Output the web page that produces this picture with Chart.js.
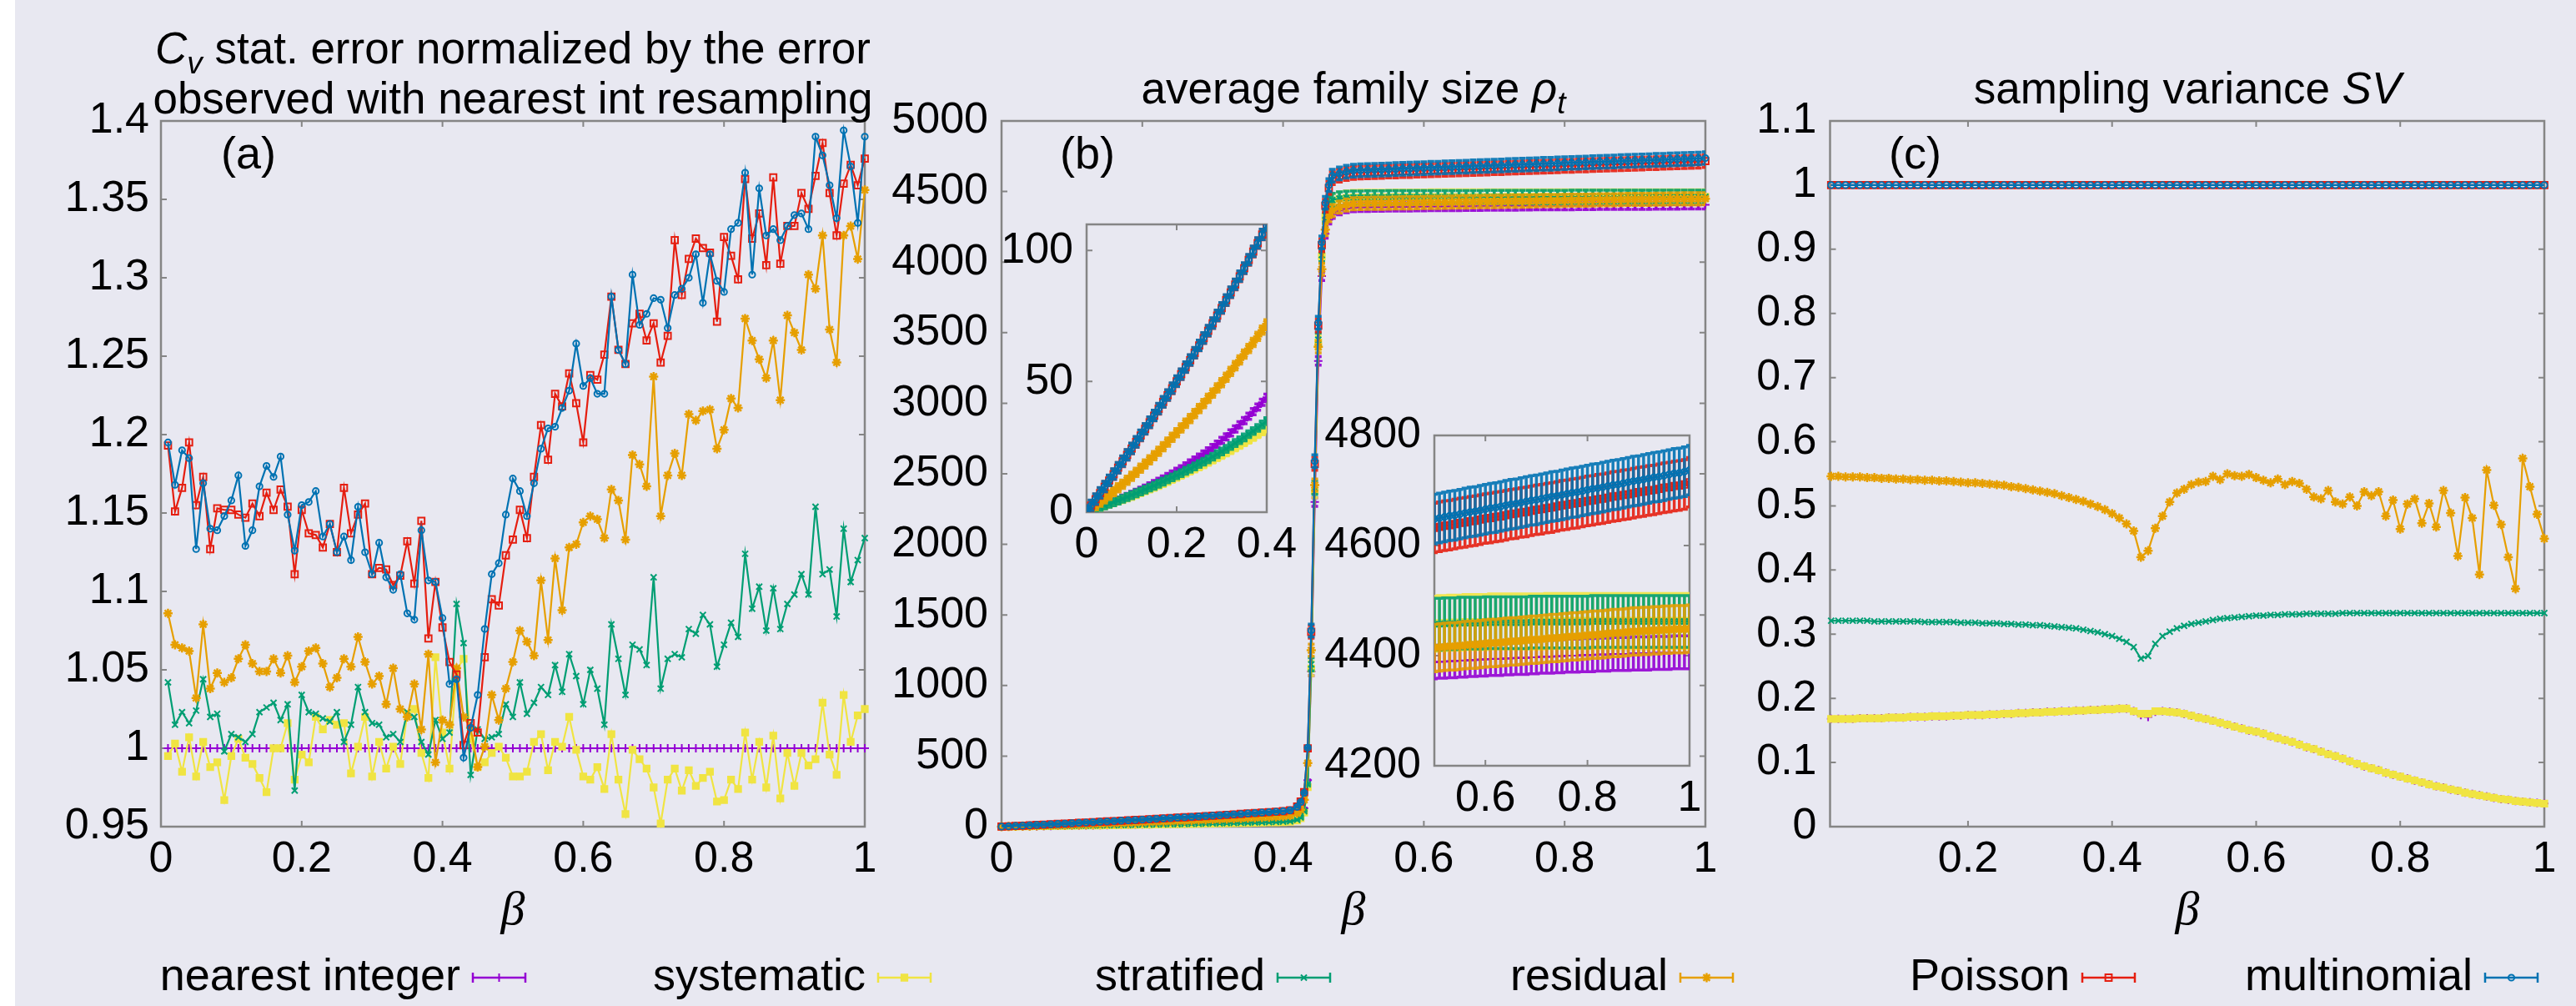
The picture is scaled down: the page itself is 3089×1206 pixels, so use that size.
<!DOCTYPE html>
<html>
<head>
<meta charset="utf-8">
<script src="https://cdn.jsdelivr.net/npm/chart.js@4.4.1/dist/chart.umd.min.js"></script>
<style>
html, body { margin: 0; padding: 0; background: #e8e8f1; }
#page { position: relative; width: 3089px; height: 1206px; overflow: hidden; background: #e8e8f1; }
#strip { position: absolute; left: 0; top: 0; width: 18px; height: 1206px; background: #ffffff; }
canvas { position: absolute; left: 0; top: 0; }
</style>
</head>
<body>
<div id="page">
  <div id="strip"></div>
  <canvas id="chartA" width="3089" height="1206"></canvas>
  <canvas id="chartB" width="3089" height="1206"></canvas>
  <canvas id="chartB1" width="3089" height="1206"></canvas>
  <canvas id="chartB2" width="3089" height="1206"></canvas>
  <canvas id="chartC" width="3089" height="1206"></canvas>
</div>
<script>
// ---- data ----

// legend / series names, in plotting order
const seriesNames = ['nearest integer', 'systematic', 'stratified', 'residual', 'Poisson', 'multinomial'];

// beta grid for panels (a) and (c)
const betaA = [0.01,0.02,0.03,0.04,0.05,0.06,0.07,0.08,0.09,0.10,
  0.11,0.12,0.13,0.14,0.15,0.16,0.17,0.18,0.19,0.20,
  0.21,0.22,0.23,0.24,0.25,0.26,0.27,0.28,0.29,0.30,
  0.31,0.32,0.33,0.34,0.35,0.36,0.37,0.38,0.39,0.40,
  0.41,0.42,0.43,0.44,0.45,0.46,0.47,0.48,0.49,0.50,
  0.51,0.52,0.53,0.54,0.55,0.56,0.57,0.58,0.59,0.60,
  0.61,0.62,0.63,0.64,0.65,0.66,0.67,0.68,0.69,0.70,
  0.71,0.72,0.73,0.74,0.75,0.76,0.77,0.78,0.79,0.80,
  0.81,0.82,0.83,0.84,0.85,0.86,0.87,0.88,0.89,0.90,
  0.91,0.92,0.93,0.94,0.95,0.96,0.97,0.98,0.99,1.00];

// (a) Cv stat. error, normalized
const nearestA = [1,1,1,1,1,1,1,1,1,1, 1,1,1,1,1,1,1,1,1,1, 1,1,1,1,1,1,1,1,1,1, 1,1,1,1,1,1,1,1,1,1,
  1,1,1,1,1,1,1,1,1,1, 1,1,1,1,1,1,1,1,1,1, 1,1,1,1,1,1,1,1,1,1, 1,1,1,1,1,1,1,1,1,1,
  1,1,1,1,1,1,1,1,1,1, 1,1,1,1,1,1,1,1,1,1];
const systematicA = [0.995,1.003,0.985,1.007,0.982,1.004,0.988,0.991,0.967,0.995,
  1.006,0.994,0.990,0.981,0.972,1.000,1.000,1.016,0.980,0.996,
  0.991,1.020,1.012,1.018,1.015,1.016,0.984,1.001,1.020,0.982,
  1.004,0.987,1.001,0.990,1.022,1.025,0.997,0.981,1.058,1.010,
  0.987,1.050,1.057,1.006,0.988,0.991,0.997,1.001,0.994,0.982,
  0.982,0.985,1.004,1.009,0.986,1.004,1.001,1.020,0.999,0.982,
  0.980,0.988,0.974,1.009,0.980,0.958,0.999,0.993,0.987,0.975,
  0.952,0.980,0.987,0.973,0.986,0.976,0.981,0.985,0.966,0.967,
  0.980,0.974,1.010,0.980,1.004,0.975,1.008,0.968,0.997,0.976,
  0.997,0.989,0.993,1.029,0.996,0.983,1.034,1.004,1.021,1.025];
const stratifiedA = [1.042,1.015,1.023,1.016,1.024,1.044,1.020,1.022,0.998,1.009,
  1.007,1.004,1.009,1.023,1.026,1.029,1.018,1.028,0.973,1.034,
  1.023,1.022,1.019,1.017,1.023,1.004,1.015,1.039,1.023,1.016,
  1.015,1.007,1.009,1.004,1.023,1.020,1.004,0.996,1.018,1.006,
  1.010,1.092,1.067,0.983,1.012,1.006,1.007,1.009,1.028,1.020,
  1.042,1.022,1.029,1.039,1.034,1.053,1.036,1.060,1.046,1.028,
  1.050,1.038,1.015,1.079,1.057,1.034,1.066,1.063,1.053,1.109,
  1.038,1.057,1.060,1.058,1.076,1.073,1.085,1.079,1.052,1.066,
  1.080,1.071,1.124,1.089,1.103,1.075,1.102,1.076,1.092,1.098,
  1.111,1.098,1.154,1.111,1.114,1.084,1.140,1.106,1.120,1.134];
const residualA = [1.086,1.066,1.064,1.062,1.032,1.079,1.038,1.048,1.042,1.045,
  1.057,1.066,1.054,1.049,1.049,1.057,1.048,1.059,1.042,1.052,
  1.062,1.064,1.054,1.039,1.045,1.057,1.052,1.071,1.055,1.041,
  1.046,1.028,1.051,1.025,1.020,1.041,1.012,1.060,0.991,1.018,
  1.015,1.051,1.020,1.013,0.988,1.001,1.034,1.018,1.038,1.055,
  1.075,1.068,1.059,1.107,1.069,1.121,1.088,1.128,1.130,1.144,
  1.148,1.146,1.134,1.165,1.158,1.133,1.187,1.181,1.167,1.237,
  1.148,1.174,1.188,1.174,1.213,1.209,1.215,1.216,1.191,1.203,
  1.223,1.217,1.274,1.260,1.248,1.236,1.260,1.222,1.276,1.265,
  1.254,1.302,1.293,1.327,1.267,1.246,1.327,1.333,1.312,1.356];
const poissonA = [1.193,1.151,1.166,1.195,1.155,1.173,1.127,1.153,1.152,1.152,
  1.149,1.147,1.156,1.148,1.163,1.152,1.165,1.154,1.111,1.152,
  1.137,1.136,1.128,1.143,1.125,1.166,1.137,1.149,1.156,1.111,
  1.115,1.114,1.104,1.110,1.132,1.105,1.145,1.070,1.106,1.077,
  1.055,1.047,1.002,1.016,1.010,1.058,1.095,1.091,1.123,1.133,
  1.152,1.134,1.173,1.206,1.184,1.226,1.218,1.239,1.220,1.195,
  1.238,1.235,1.251,1.288,1.254,1.245,1.271,1.277,1.260,1.271,
  1.246,1.263,1.324,1.289,1.312,1.325,1.319,1.316,1.272,1.326,
  1.314,1.299,1.363,1.325,1.341,1.308,1.364,1.309,1.333,1.333,
  1.354,1.344,1.365,1.386,1.354,1.327,1.360,1.372,1.359,1.376];
const multinomialA = [1.195,1.168,1.190,1.185,1.127,1.169,1.140,1.139,1.148,1.158,
  1.174,1.129,1.139,1.167,1.180,1.173,1.186,1.149,1.126,1.155,
  1.157,1.164,1.135,1.143,1.125,1.135,1.120,1.154,1.125,1.111,
  1.131,1.109,1.101,1.111,1.086,1.082,1.139,1.107,1.106,1.083,
  1.041,1.044,0.994,1.013,1.034,1.076,1.111,1.118,1.149,1.172,
  1.164,1.148,1.169,1.191,1.204,1.205,1.217,1.228,1.258,1.231,
  1.236,1.226,1.226,1.288,1.254,1.245,1.302,1.270,1.277,1.287,
  1.286,1.268,1.289,1.293,1.300,1.315,1.284,1.315,1.298,1.291,
  1.331,1.335,1.367,1.302,1.357,1.327,1.331,1.324,1.333,1.340,
  1.341,1.331,1.390,1.378,1.359,1.338,1.394,1.371,1.335,1.390];

// (b) average family size, finer near the jump
const betaB = [0,0.01,0.02,0.03,0.04,0.05,0.06,0.07,0.08,0.09,
  0.10,0.11,0.12,0.13,0.14,0.15,0.16,0.17,0.18,0.19,
  0.20,0.21,0.22,0.23,0.24,0.25,0.26,0.27,0.28,0.29,
  0.30,0.31,0.32,0.33,0.34,0.35,0.36,0.37,0.38,0.39,
  0.40,0.41,0.42,
  0.425,0.43,0.435,0.44,0.445,0.45,0.455,0.46,0.465,
  0.47,0.48,0.49,0.50,
  0.51,0.52,0.53,0.54,0.55,0.56,0.57,0.58,0.59,0.60,
  0.61,0.62,0.63,0.64,0.65,0.66,0.67,0.68,0.69,0.70,
  0.71,0.72,0.73,0.74,0.75,0.76,0.77,0.78,0.79,0.80,
  0.81,0.82,0.83,0.84,0.85,0.86,0.87,0.88,0.89,0.90,
  0.91,0.92,0.93,0.94,0.95,0.96,0.97,0.98,0.99,1.00];
const nearestB = [0.2,0.8,1.4,2.0,2.6,3.2,3.9,4.6,5.3,6.0,
  6.8,7.6,8.4,9.2,10.0,10.9,11.8,12.7,13.6,14.6,
  15.6,16.6,17.7,18.8,19.9,21.0,22.2,23.4,24.7,26.0,
  27.4,28.8,30.3,31.8,33.4,35.0,36.7,38.4,40.2,42.0,
  43.9,48,60,
  80,130,330,1100,2300,3300,3900,4200,4300,
  4340,4365,4380,4388,
  4389,4389,4390,4390,4391,4391,4392,4392,4393,4393,
  4394,4394,4394,4395,4395,4396,4396,4396,4397,4397,
  4398,4398,4398,4399,4399,4400,4400,4400,4401,4401,
  4401,4402,4402,4402,4403,4403,4403,4403,4404,4404,
  4404,4404,4405,4405,4405,4405,4406,4406,4406,4406];
const systematicB = [0.2,0.7,1.3,1.9,2.5,3.1,3.7,4.3,4.9,5.5,
  6.1,6.8,7.5,8.2,8.9,9.6,10.3,11.0,11.8,12.6,
  13.4,14.2,15.0,15.8,16.6,17.4,18.2,19.1,20.0,20.9,
  21.8,22.7,23.6,24.6,25.6,26.6,27.6,28.6,29.7,30.8,
  31.9,35,44,
  60,100,280,1120,2380,3430,4040,4320,4410,
  4435,4448,4455,4458,
  4459,4459,4460,4460,4460,4461,4461,4461,4461,4461,
  4462,4462,4462,4462,4462,4462,4462,4462,4462,4462,
  4462,4463,4463,4463,4463,4463,4463,4463,4463,4463,
  4463,4463,4463,4463,4463,4463,4463,4463,4463,4463,
  4463,4463,4463,4463,4463,4463,4463,4463,4463,4463];
const stratifiedB = [0.2,0.8,1.4,2.0,2.6,3.2,3.8,4.4,5.1,5.8,
  6.5,7.2,7.9,8.6,9.4,10.1,10.9,11.7,12.5,13.3,
  14.1,14.9,15.8,16.6,17.5,18.4,19.3,20.2,21.2,22.2,
  23.2,24.2,25.3,26.4,27.5,28.6,29.8,31.0,32.2,33.5,
  34.8,38,48,
  65,110,300,1150,2400,3450,4050,4330,4420,
  4440,4450,4455,4457,
  4457,4458,4458,4458,4459,4459,4459,4459,4459,4460,
  4460,4460,4460,4460,4460,4460,4460,4460,4461,4461,
  4461,4461,4461,4461,4461,4461,4461,4461,4461,4461,
  4462,4462,4462,4462,4462,4462,4462,4462,4462,4462,
  4462,4462,4462,4462,4462,4462,4462,4462,4462,4462];
const residualB = [0.3,1.2,2.5,3.8,5.1,6.5,7.9,9.3,10.7,12.2,
  13.7,15.2,16.8,18.4,20.0,21.6,23.3,25.0,26.8,28.6,
  30.4,32.2,34.0,35.8,37.7,39.6,41.5,43.5,45.5,47.5,
  49.5,51.6,53.8,56.0,58.2,60.4,62.6,64.9,67.2,69.6,
  72.0,78,95,
  120,190,450,1250,2420,3400,3950,4230,4330,
  4365,4390,4405,4414,
  4415,4416,4417,4417,4418,4419,4420,4420,4421,4422,
  4423,4423,4424,4425,4426,4426,4427,4428,4429,4429,
  4430,4431,4432,4432,4433,4434,4435,4435,4436,4437,
  4438,4438,4439,4440,4441,4441,4442,4443,4444,4444,
  4445,4445,4446,4446,4447,4447,4448,4448,4448,4449];
const poissonB = [0.5,2.5,4.9,7.3,9.7,12.1,14.5,17.0,19.4,21.9,
  24.3,26.8,29.3,31.8,34.3,36.9,39.5,42.1,44.7,47.3,
  50.0,52.7,55.4,58.1,60.9,63.7,66.5,69.3,72.2,75.1,
  78.0,81.0,84.0,87.0,90.1,93.2,96.4,99.6,102.8,106.1,
  109.4,116,142,
  178,245,555,1380,2570,3550,4120,4400,4525,
  4595,4612,4624,4632,
  4634,4636,4637,4639,4641,4642,4644,4645,4647,4649,
  4650,4652,4653,4655,4657,4658,4660,4661,4663,4665,
  4666,4668,4669,4671,4673,4674,4676,4677,4679,4681,
  4682,4684,4685,4687,4689,4690,4692,4693,4695,4697,
  4698,4700,4701,4703,4705,4706,4708,4709,4711,4715];
const multinomialB = [0.5,2.6,5.0,7.4,9.8,12.2,14.6,17.0,19.5,21.9,
  24.4,26.9,29.4,31.9,34.4,37.0,39.6,42.2,44.8,47.4,
  50.1,52.8,55.5,58.2,61.0,63.8,66.6,69.4,72.3,75.2,
  78.1,81.1,84.1,87.1,90.2,93.3,96.5,99.7,102.9,106.2,
  109.5,116,140,
  175,240,560,1390,2590,3570,4140,4420,4545,
  4612,4628,4640,4648,
  4650,4652,4654,4655,4657,4659,4661,4662,4664,4666,
  4668,4669,4671,4673,4675,4676,4678,4680,4682,4683,
  4685,4687,4689,4690,4692,4694,4696,4697,4699,4701,
  4703,4704,4706,4708,4710,4711,4713,4715,4717,4718,
  4720,4722,4724,4725,4727,4729,4731,4732,4734,4737];
// half-width of the error bars in (b): before the jump / on the plateau
const errSmallB = [1.2, 1.2, 1.3, 1.6, 2.0, 2.0];
const errPlateauB = [30, 50, 47, 43, 45, 45];

// (c) sampling variance
const betaC = betaA;
const nearestC = [0.168,0.168,0.168,0.168,0.169,0.169,0.169,0.169,0.170,0.170,
  0.170,0.171,0.171,0.171,0.172,0.172,0.172,0.173,0.173,0.174,
  0.174,0.174,0.175,0.175,0.176,0.176,0.177,0.177,0.178,0.178,
  0.179,0.179,0.180,0.180,0.181,0.181,0.182,0.182,0.183,0.183,
  0.184,0.184,0.180,0.174,0.171,0.179,0.180,0.179,0.178,0.176,
  0.173,0.170,0.168,0.165,0.162,0.159,0.156,0.153,0.150,0.148,
  0.145,0.141,0.138,0.135,0.132,0.128,0.124,0.121,0.117,0.113,
  0.110,0.106,0.102,0.098,0.094,0.091,0.088,0.084,0.081,0.078,
  0.075,0.072,0.069,0.066,0.063,0.061,0.058,0.056,0.053,0.051,
  0.049,0.047,0.045,0.043,0.042,0.040,0.039,0.038,0.037,0.036];
const systematicC = [0.168,0.168,0.168,0.168,0.169,0.169,0.169,0.169,0.170,0.170,
  0.170,0.171,0.171,0.171,0.172,0.172,0.172,0.173,0.173,0.174,
  0.174,0.174,0.175,0.175,0.176,0.176,0.177,0.177,0.178,0.178,
  0.179,0.179,0.180,0.180,0.181,0.181,0.182,0.182,0.183,0.183,
  0.184,0.184,0.180,0.176,0.176,0.180,0.180,0.179,0.178,0.176,
  0.173,0.170,0.168,0.165,0.162,0.159,0.156,0.153,0.150,0.148,
  0.145,0.141,0.138,0.135,0.132,0.128,0.124,0.121,0.117,0.113,
  0.110,0.106,0.102,0.098,0.094,0.091,0.088,0.084,0.081,0.078,
  0.075,0.072,0.069,0.066,0.063,0.061,0.058,0.056,0.053,0.051,
  0.049,0.047,0.045,0.043,0.042,0.040,0.039,0.038,0.037,0.036];
const stratifiedC = [0.321,0.321,0.321,0.321,0.321,0.321,0.320,0.320,0.320,0.320,
  0.320,0.320,0.320,0.319,0.319,0.319,0.319,0.319,0.318,0.318,
  0.318,0.317,0.317,0.317,0.316,0.316,0.315,0.315,0.314,0.314,
  0.313,0.312,0.311,0.310,0.309,0.307,0.305,0.303,0.300,0.297,
  0.293,0.288,0.280,0.262,0.266,0.285,0.297,0.304,0.309,0.313,
  0.316,0.318,0.320,0.322,0.324,0.325,0.326,0.327,0.328,0.329,
  0.329,0.330,0.330,0.331,0.331,0.331,0.332,0.332,0.332,0.332,
  0.332,0.333,0.333,0.333,0.333,0.333,0.333,0.333,0.333,0.333,
  0.333,0.333,0.333,0.333,0.333,0.333,0.333,0.333,0.333,0.333,
  0.333,0.333,0.333,0.333,0.333,0.333,0.333,0.333,0.333,0.333];
const residualC = [0.546,0.546,0.545,0.545,0.545,0.544,0.544,0.543,0.543,0.542,
  0.542,0.541,0.541,0.540,0.540,0.539,0.539,0.538,0.537,0.536,
  0.536,0.535,0.534,0.533,0.532,0.530,0.529,0.527,0.525,0.523,
  0.521,0.519,0.516,0.513,0.510,0.507,0.503,0.499,0.494,0.488,
  0.481,0.472,0.461,0.420,0.430,0.465,0.484,0.506,0.520,0.526,
  0.533,0.537,0.538,0.546,0.541,0.550,0.547,0.546,0.549,0.544,
  0.540,0.536,0.542,0.533,0.538,0.535,0.526,0.514,0.511,0.524,
  0.506,0.503,0.514,0.500,0.522,0.516,0.522,0.484,0.509,0.464,
  0.503,0.511,0.473,0.504,0.467,0.524,0.489,0.422,0.513,0.481,
  0.393,0.556,0.501,0.471,0.420,0.371,0.574,0.530,0.487,0.449];
const poissonC = [1,1,1,1,1,1,1,1,1,1, 1,1,1,1,1,1,1,1,1,1, 1,1,1,1,1,1,1,1,1,1, 1,1,1,1,1,1,1,1,1,1,
  1,1,1,1,1,1,1,1,1,1, 1,1,1,1,1,1,1,1,1,1, 1,1,1,1,1,1,1,1,1,1, 1,1,1,1,1,1,1,1,1,1,
  1,1,1,1,1,1,1,1,1,1, 1,1,1,1,1,1,1,1,1,1];
const multinomialC = [1,1,1,1,1,1,1,1,1,1, 1,1,1,1,1,1,1,1,1,1, 1,1,1,1,1,1,1,1,1,1, 1,1,1,1,1,1,1,1,1,1,
  1,1,1,1,1,1,1,1,1,1, 1,1,1,1,1,1,1,1,1,1, 1,1,1,1,1,1,1,1,1,1, 1,1,1,1,1,1,1,1,1,1,
  1,1,1,1,1,1,1,1,1,1, 1,1,1,1,1,1,1,1,1,1];

// tick values
const ticksAx = [0, 0.2, 0.4, 0.6, 0.8, 1];
const ticksAy = [0.95, 1, 1.05, 1.1, 1.15, 1.2, 1.25, 1.3, 1.35, 1.4];
const ticksBx = [0, 0.2, 0.4, 0.6, 0.8, 1];
const ticksBy = [0, 500, 1000, 1500, 2000, 2500, 3000, 3500, 4000, 4500, 5000];
const ticksB1x = [0, 0.2, 0.4];
const ticksB1y = [0, 50, 100];
const ticksB2x = [0.6, 0.8, 1];
const ticksB2y = [4200, 4400, 4600, 4800];
const ticksCx = [0.2, 0.4, 0.6, 0.8, 1];
const ticksCy = [0, 0.1, 0.2, 0.3, 0.4, 0.5, 0.6, 0.7, 0.8, 0.9, 1, 1.1];

// ---- styling ----
const W = 3089, H = 1206;
const BG = '#e8e8f1';
const FAM = "'Liberation Sans', Arial, sans-serif";
const colors = ['#9400d3', '#f0e442', '#009e73', '#e69f00', '#e51e10', '#0072b2'];
const marks = [
    { style: 'cross', r: 5, bw: 2, fill: false },
    { style: 'rect', r: 5.5, bw: 1.5, fill: true },
    { style: 'crossRot', r: 5, bw: 2, fill: false },
    { style: 'star', r: 5.5, bw: 2.5, fill: true },
    { style: 'rect', r: 5.5, bw: 2, fill: false },
    { style: 'circle', r: 3.6, bw: 2, fill: false }
];

Chart.defaults.font.family = FAM;
Chart.defaults.font.size = 52;
Chart.defaults.color = '#000';
Chart.defaults.animation = false;

function fmt(v) {
    return String(parseFloat(Number(v).toFixed(3)));
}

/**
 * Linear axis with fixed ticks and a fixed box size
 */
function axis(min, max, vals, o) {
    return {
        type: 'linear',
        min: min,
        max: max,
        grid: { display: false, drawTicks: false },
        border: { display: false },
        afterBuildTicks: s => { s.ticks = vals.map(v => ({ value: v })); },
        afterFit: s => {
            if (o.w) s.width = o.w;
            if (o.h) s.height = o.h;
        },
        ticks: {
            autoSkip: false, maxRotation: 0, minRotation: 0,
            padding: o.pad, font: { size: 52 },
            callback: v => fmt(v)
        }
    };
}

/**
 * Plot border with inward ticks on all four sides (gnuplot style)
 */
function framePlugin(fillBg) {
    return {
        id: 'frame',
        beforeDatasetsDraw(chart) {
            const { ctx, chartArea: a, scales: { x, y } } = chart;
            ctx.save();
            if (fillBg) {
                ctx.fillStyle = BG;
                ctx.fillRect(a.left, a.top, a.right - a.left, a.bottom - a.top);
            }
            ctx.strokeStyle = '#858585';
            ctx.lineWidth = 2.5;
            ctx.strokeRect(a.left, a.top, a.right - a.left, a.bottom - a.top);
            ctx.lineWidth = 2;
            ctx.beginPath();
            const tl = 7;
            x.ticks.forEach(t => {
                const px = x.getPixelForValue(t.value);
                ctx.moveTo(px, a.bottom); ctx.lineTo(px, a.bottom - tl);
                ctx.moveTo(px, a.top); ctx.lineTo(px, a.top + tl);
            });
            y.ticks.forEach(t => {
                const py = y.getPixelForValue(t.value);
                ctx.moveTo(a.left, py); ctx.lineTo(a.left + tl, py);
                ctx.moveTo(a.right, py); ctx.lineTo(a.right - tl, py);
            });
            ctx.stroke();
            ctx.restore();
        }
    };
}

/**
 * Vertical error bars drawn just under each dataset
 */
const errorBarPlugin = {
    id: 'errbars',
    beforeDatasetDraw(chart, args) {
        const ds = chart.data.datasets[args.index];
        if (!ds.err) return;
        const { ctx, chartArea: a, scales: { x, y } } = chart;
        ctx.save();
        ctx.beginPath();
        ctx.rect(a.left, a.top, a.right - a.left, a.bottom - a.top);
        ctx.clip();
        ctx.strokeStyle = ds.borderColor;
        ctx.globalAlpha = 0.9;
        ctx.lineWidth = 3.5;
        ctx.beginPath();
        ds.data.forEach((p, i) => {
            const e = ds.err[i];
            if (!e) return;
            const px = x.getPixelForValue(p.x);
            const y1 = y.getPixelForValue(p.y - e);
            const y2 = y.getPixelForValue(p.y + e);
            ctx.moveTo(px, y1); ctx.lineTo(px, y2);
            ctx.moveTo(px - 4, y1); ctx.lineTo(px + 4, y1);
            ctx.moveTo(px - 4, y2); ctx.lineTo(px + 4, y2);
        });
        ctx.stroke();
        ctx.restore();
    }
};

function buildDatasets(xs, series, errs, clip) {
    return series.map((ys, i) => ({
        label: seriesNames[i],
        data: xs.map((x, j) => ({ x: x, y: ys[j] })),
        err: errs ? errs[i] : null,
        borderColor: colors[i],
        backgroundColor: colors[i],
        borderWidth: 2.2,
        pointStyle: marks[i].style,
        pointRadius: marks[i].r,
        pointBorderWidth: marks[i].bw,
        pointBorderColor: colors[i],
        pointBackgroundColor: marks[i].fill ? colors[i] : 'rgba(0,0,0,0)',
        tension: 0,
        order: 6 - i,
        clip: clip
    }));
}

function makeChart(id, box, datasets, xAx, yAx, extraPlugins) {
    return new Chart(document.getElementById(id), {
        type: 'line',
        data: { datasets: datasets },
        options: {
            responsive: false,
            devicePixelRatio: 1,
            animation: false,
            events: [],
            layout: {
                padding: { left: box.l - 160, top: box.t, right: W - box.r, bottom: H - box.b - 70 }
            },
            scales: { x: xAx, y: yAx },
            plugins: { legend: { display: false }, tooltip: { enabled: false } }
        },
        plugins: extraPlugins
    });
}

// ---- text: titles, panel labels, beta, legend ----
function richText(ctx, parts, cx, base, size) {
    const fontOf = st => (st.indexOf('i') >= 0 ? 'italic ' : '') +
        (st.indexOf('s') >= 0 ? Math.round(size * 0.7) : size) + 'px ' + FAM;
    let w = 0;
    parts.forEach(([t, st]) => { ctx.font = fontOf(st); w += ctx.measureText(t).width; });
    let x = cx - w / 2;
    ctx.textAlign = 'left';
    ctx.textBaseline = 'alphabetic';
    parts.forEach(([t, st]) => {
        ctx.font = fontOf(st);
        ctx.fillText(t, x, base + (st.indexOf('s') >= 0 ? size * 0.22 : 0));
        x += ctx.measureText(t).width;
    });
}

const annotPlugin = {
    id: 'annot',
    afterDraw(chart) {
        const ctx = chart.ctx;
        ctx.save();
        ctx.fillStyle = '#000';
        // panel titles
        richText(ctx, [['C', 'i'], ['v', 'is'], [' stat. error normalized by the error', '']], 615, 76, 53);
        richText(ctx, [['observed with nearest int resampling', '']], 615, 136, 53);
        richText(ctx, [['average family size ', ''], ['\u03c1', 'i'], ['t', 'is']], 1623, 124, 53);
        richText(ctx, [['sampling variance ', ''], ['SV', 'i']], 2623, 124, 53);
        // panel labels
        ctx.font = '54px ' + FAM;
        ctx.textAlign = 'left';
        ctx.fillText('(a)', 265, 202);
        ctx.fillText('(b)', 1271, 202);
        ctx.fillText('(c)', 2265, 202);
        // x axis titles
        ctx.font = "italic 58px 'Liberation Serif', 'DejaVu Serif', serif";
        ctx.textAlign = 'center';
        [615, 1623, 2623].forEach(cx => ctx.fillText('\u03b2', cx, 1108));
        // legend
        const ends = [552, 1038, 1517, 2000, 2482, 2965];
        const ly = 1172;
        seriesNames.forEach((name, i) => {
            ctx.font = '54px ' + FAM;
            ctx.textAlign = 'right';
            ctx.fillStyle = '#000';
            ctx.fillText(name, ends[i], 1187);
            const x1 = ends[i] + 15, x2 = ends[i] + 78;
            ctx.strokeStyle = colors[i];
            ctx.lineWidth = 2.5;
            ctx.beginPath();
            ctx.moveTo(x1, ly); ctx.lineTo(x2, ly);
            ctx.moveTo(x1, ly - 6); ctx.lineTo(x1, ly + 6);
            ctx.moveTo(x2, ly - 6); ctx.lineTo(x2, ly + 6);
            ctx.stroke();
            ctx.fillStyle = marks[i].fill ? colors[i] : 'rgba(0,0,0,0)';
            ctx.lineWidth = marks[i].bw;
            if (Chart.helpers && Chart.helpers.drawPoint) {
                Chart.helpers.drawPoint(ctx, { pointStyle: marks[i].style, radius: marks[i].r,
                    rotation: 0, borderWidth: marks[i].bw }, (x1 + x2) / 2, ly);
            }
        });
        ctx.restore();
    }
};

// ---- panels ----
const boxA = { l: 193, t: 145, r: 1037, b: 991 };
const boxB = { l: 1201, t: 145, r: 2045, b: 991 };
const boxB1 = { l: 1303, t: 269, r: 1519, b: 614 };
const boxB2 = { l: 1720, t: 522, r: 2026, b: 918 };
const boxC = { l: 2194.5, t: 145, r: 3051, b: 991 };

const errB = errPlateauB.map((ep, i) => betaB.map(x => (x < 0.44 ? errSmallB[i] : ep)));

makeChart('chartA', boxA,
    buildDatasets(betaA, [nearestA, systematicA, stratifiedA, residualA, poissonA, multinomialA], null, 8),
    axis(0, 1, ticksAx, { h: 70, pad: 8 }),
    axis(0.95, 1.4, ticksAy, { w: 160, pad: 14 }),
    [framePlugin(false)]);

makeChart('chartB', boxB,
    buildDatasets(betaB, [nearestB, systematicB, stratifiedB, residualB, poissonB, multinomialB], errB, 8),
    axis(0, 1, ticksBx, { h: 70, pad: 8 }),
    axis(0, 5000, ticksBy, { w: 160, pad: 16 }),
    [framePlugin(false), errorBarPlugin]);

makeChart('chartB1', boxB1,
    buildDatasets(betaB, [nearestB, systematicB, stratifiedB, residualB, poissonB, multinomialB], errB, 0),
    axis(0, 0.4, ticksB1x, { h: 70, pad: 8 }),
    axis(0, 110, ticksB1y, { w: 160, pad: 16 }),
    [framePlugin(true), errorBarPlugin]);

makeChart('chartB2', boxB2,
    buildDatasets(betaB, [nearestB, systematicB, stratifiedB, residualB, poissonB, multinomialB], errB, 0),
    axis(0.5, 1, ticksB2x, { h: 70, pad: 8 }),
    axis(4200, 4800, ticksB2y, { w: 160, pad: 16 }),
    [framePlugin(true), errorBarPlugin]);

makeChart('chartC', boxC,
    buildDatasets(betaC, [nearestC, systematicC, stratifiedC, residualC, poissonC, multinomialC], null, 8),
    axis(0.0085, 1, ticksCx, { h: 70, pad: 8 }),
    axis(0, 1.1, ticksCy, { w: 160, pad: 16 }),
    [framePlugin(false), annotPlugin]);
</script>
</body>
</html>
